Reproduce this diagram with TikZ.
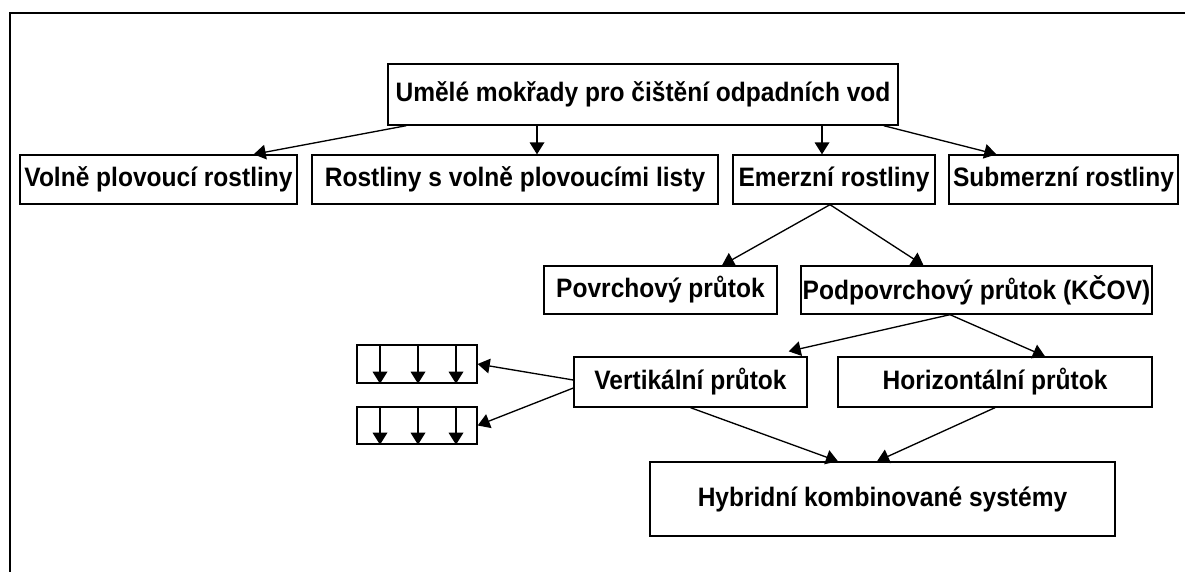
\documentclass[tikz,border=0pt]{standalone}
\usepackage{fontspec}
\setmainfont{Liberation Sans}[FakeStretch=0.92]
\usetikzlibrary{arrows.meta,calc}
\newdimen\pix \pix=0.75pt
\begin{document}
\begin{tikzpicture}[x=0.75pt,y=-0.75pt,font=\bfseries\fontsize{20}{22}\selectfont,
	box/.style={draw,line width=1pt,inner sep=0pt},
	pfeil/.style={-{Triangle[length=9pt,width=11pt]},line width=1pt}]
	\useasboundingbox (0,0) rectangle (1185,572);
	\draw[line width=2pt] (1185,13) -- (10,13) -- (10,572);
	% Ebenen von oben nach unten
	\node[box,minimum width=510\pix,minimum height=61\pix] (umele) at (643,94.5) {Umělé mokřady pro čištění odpadních vod};
	\node[box,minimum width=277\pix,minimum height=49\pix] (volne) at (158.5,179.5) {Volně plovoucí rostliny};
	\node[box,minimum width=406\pix,minimum height=49\pix] (listy) at (515,179.5) {Rostliny s volně plovoucími listy};
	\node[box,minimum width=202\pix,minimum height=49\pix] (emerz) at (834,179.5) {Emerzní rostliny};
	\node[box,minimum width=229\pix,minimum height=49\pix] (submerz) at (1063.5,179.5) {Submerzní rostliny};
	\node[box,minimum width=233\pix,minimum height=48\pix] (povrch) at (660.5,290) {Povrchový průtok};
	\node[box,minimum width=351\pix,minimum height=48\pix] (podpovrch) at (976.5,290) {Podpovrchový průtok (KČOV)};
	\node[box,minimum width=233\pix,minimum height=50\pix] (vert) at (690.5,382) {Vertikální průtok};
	\node[box,minimum width=314\pix,minimum height=50\pix] (horiz) at (995,382) {Horizontální průtok};
	\node[box,minimum width=465\pix,minimum height=74\pix] (hybrid) at (882.5,499) {Hybridní kombinované systémy};
	\node[box,minimum width=120\pix,minimum height=38\pix] (filtrA) at (417,364) {};
	\node[box,minimum width=120\pix,minimum height=37\pix] (filtrB) at (417,425.5) {};
	\foreach \f in {filtrA,filtrB}
		\foreach \dx in {-37,1,39}
			\draw[pfeil] ($(\f.north)+(\dx,0)$) -- ($(\f.south)+(\dx,0)$);
	% Pfeile
	\coordinate (zuListy) at ($(listy.north)+(22,0)$);
	\coordinate (zuEmerz) at ($(emerz.north)+(-12,0)$);
	\draw[pfeil] ($(umele.south west)+(19,0)$) -- ($(volne.north east)+(-44,0)$);
	\draw[pfeil] (zuListy |- umele.south) -- (zuListy);
	\draw[pfeil] (zuEmerz |- umele.south) -- (zuEmerz);
	\draw[pfeil] ($(umele.south east)+(-15,0)$) -- ($(submerz.north west)+(48,0)$);
	\draw[pfeil] ($(emerz.south)+(-4,0)$) -- ($(povrch.north)+(61.5,0)$);
	\draw[pfeil] ($(emerz.south)+(-4,0)$) -- ($(podpovrch.north)+(-53,0)$);
	\draw[pfeil] ($(podpovrch.south)+(-26.5,0)$) -- ($(vert.north east)+(-19,-5)$);
	\draw[pfeil] ($(podpovrch.south)+(-26.5,0)$) -- ($(horiz.north)+(50,0)$);
	\draw[pfeil] (vert.south) -- ($(hybrid.north)+(-44.5,0)$);
	\draw[pfeil] (horiz.south) -- ($(hybrid.north)+(-5.5,0)$);
	\draw[pfeil] ($(vert.west)+(0,-2)$) -- (filtrA.east);
	\draw[pfeil] ($(vert.west)+(0,6)$) -- (filtrB.east);
\end{tikzpicture}
\end{document}
